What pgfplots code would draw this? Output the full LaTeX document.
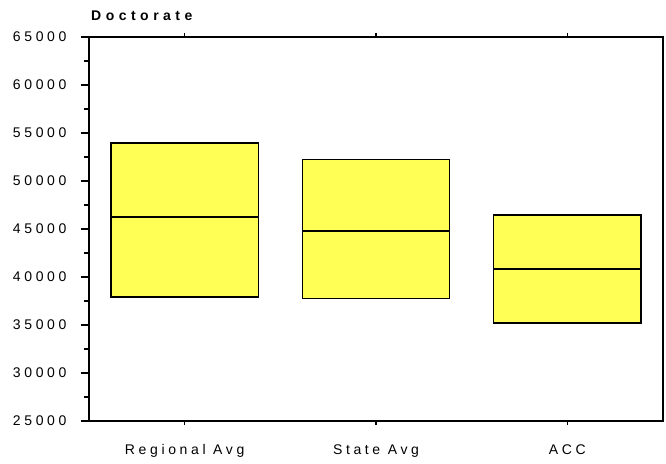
\documentclass[border=0pt]{standalone}
\usepackage{fontspec}
\setmainfont{Liberation Sans}[LetterSpace=26]
\usepackage{pgfplots}
\pgfplotsset{compat=1.18}
\usepgfplotslibrary{statistics}
\definecolor{boxyellow}{RGB}{255,255,85}
\begin{document}
\begin{tikzpicture}
\begin{axis}[
  name=ax,
  scale only axis,
  width=574pt, height=384pt,
  xmin=-0.5, xmax=2.5,
  ymin=25000, ymax=65000,
  ytick={25000,30000,...,65000},
  scaled y ticks=false,
  minor y tick num=1,
  xtick={0,1,2},
  xticklabels={Regional Avg,State Avg,ACC},
  xtick pos=both,
  ytick pos=left,
  tick align=outside,
  major tick length=8pt,
  minor tick length=5pt,
  x tick style={/pgfplots/major tick length=4pt},
  tick style={line width=1.2pt, black},
  axis line style={line width=1.6pt},
  /pgf/number format/assume math mode=true,
  y tick label style={/pgf/number format/fixed, /pgf/number format/1000 sep={}, font=\fontsize{14}{17}\selectfont, xshift=-11pt},
  x tick label style={font=\fontsize{14}{17}\selectfont, yshift=-12pt},
  boxplot/draw direction=y,
]
\addplot+[boxplot prepared={lower whisker=37920, lower quartile=37920, median=46220, upper quartile=53930, upper whisker=53930, draw position=0, box extend=0.77}, fill=boxyellow, draw=black, line width=1.6pt, mark=none] coordinates {};
\addplot+[boxplot prepared={lower whisker=37750, lower quartile=37750, median=44790, upper quartile=52260, upper whisker=52260, draw position=1, box extend=0.77}, fill=boxyellow, draw=black, line width=1.6pt, mark=none] coordinates {};
\addplot+[boxplot prepared={lower whisker=35210, lower quartile=35210, median=40830, upper quartile=46430, upper whisker=46430, draw position=2, box extend=0.77}, fill=boxyellow, draw=black, line width=1.6pt, mark=none] coordinates {};
\end{axis}
\node[anchor=base west, font=\bfseries\fontsize{14}{17}\selectfont\addfontfeatures{LetterSpace=32}, inner sep=0pt] at ([xshift=2pt,yshift=16pt]ax.north west) {Doctorate};
\pgfresetboundingbox
\path[use as bounding box] ([xshift=-89pt,yshift=37pt]ax.north west) rectangle ([xshift=3pt,yshift=-42pt]ax.south east);
\end{tikzpicture}
\end{document}
